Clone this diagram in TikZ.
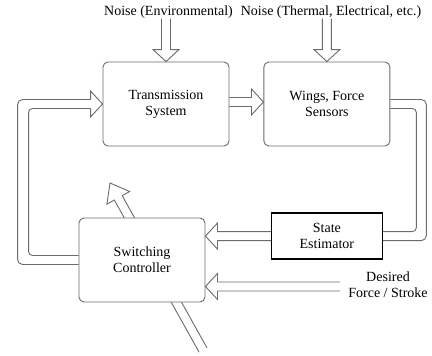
\documentclass[tikz,border=0pt]{standalone}
\usepackage{fontspec}
\setmainfont{Liberation Serif}
\usepackage{tikz}
\usetikzlibrary{positioning,calc}
\definecolor{linegray}{gray}{0.42}
\tikzset{every node/.style={font=\fontsize{14}{16}\selectfont}}

% hollow double-line arrow from #2 to #3, head length #1
\newcommand{\fatarrow}[3][12pt]{%
  \draw[flow] let \p1=($(#3)-(#2)$), \n1={atan2(\y1,\x1)} in
    ($(#2)+({\n1+90}:4.5pt)$)
    -- ($(#3)+({\n1+180}:#1)+({\n1+90}:4.5pt)$)
    -- ($(#3)+({\n1+180}:#1)+({\n1+90}:13pt)$)
    -- (#3)
    -- ($(#3)+({\n1+180}:#1)+({\n1-90}:13pt)$)
    -- ($(#3)+({\n1+180}:#1)+({\n1-90}:4.5pt)$)
    -- ($(#2)+({\n1-90}:4.5pt)$);}
% head only, for the loops
\newcommand{\fathead}[3][12pt]{%
  \draw[flow] let \p1=($(#3)-(#2)$), \n1={atan2(\y1,\x1)} in
    ($(#3)+({\n1+180}:#1)+({\n1+90}:4.5pt)$)
    -- ($(#3)+({\n1+180}:#1)+({\n1+90}:13pt)$)
    -- (#3)
    -- ($(#3)+({\n1+180}:#1)+({\n1-90}:13pt)$)
    -- ($(#3)+({\n1+180}:#1)+({\n1-90}:4.5pt)$);}

\begin{document}
\begin{tikzpicture}[
    x=1pt, y=-1pt,
    flow/.style={draw=linegray, line width=0.9pt},
    block/.style={rectangle, rounded corners=5pt, draw=linegray, line width=0.9pt,
      fill=white, minimum width=126pt, minimum height=84pt, align=center, inner sep=0pt},
    estbox/.style={rectangle, draw=black, line width=1.3pt, fill=white,
      minimum width=111pt, minimum height=46pt, align=center, inner sep=0pt}
]
\useasboundingbox (0,0) rectangle (432,356);

% switching arrow through the controller (drawn first, box covers it)
\coordinate (swlow) at (203,350);
\coordinate (swtip) at (110,183);
\fatarrow[17pt]{swlow}{swtip}

\node (trans) [block] at (166,104) {Transmission\\System};
\node (wings) [block, right=34pt of trans] {Wings, Force\\Sensors};
\node (est) [estbox, below=66pt of wings] {State\\Estimator};
\node (switch) [block] at (142,260) {Switching\\Controller};

\node (envnoise) at (168.5,12) {Noise (Environmental)};
\node (sensnoise) at (331,12) {Noise (Thermal, Electrical, etc.)};
\node (desired) [align=center] at (388,285) {Desired\\Force / Stroke};

\coordinate (envin) at ([yshift=43pt]trans.north);
\coordinate (sensin) at ([yshift=43pt]wings.north);
\coordinate (setpoint) at (340,286.5);

\fatarrow{envin}{trans.north}
\fatarrow{sensin}{wings.north}
\fatarrow{[yshift=2pt]trans.east}{[yshift=2pt]wings.west}
\fatarrow{est.west}{switch.east |- est.west}
\fatarrow{setpoint}{switch.east |- setpoint}

% feedback, sensors to estimator
\draw[flow, rounded corners=5pt] ([yshift=4.5pt]wings.east) -- ++(36pt,0) |- ([yshift=-4.5pt]est.east);
\draw[flow, rounded corners=4pt] ([yshift=-4.5pt]wings.east) -- ++(26pt,0) |- ([yshift=4.5pt]est.east);

% feedback, controller to transmission
\draw[flow, rounded corners=5pt] ([yshift=-4.5pt]switch.west) -- ++(-61pt,0) |- ([xshift=-12pt,yshift=4.5pt]trans.west);
\draw[flow, rounded corners=4pt] ([yshift=4.5pt]switch.west) -- ++(-50pt,0) |- ([xshift=-12pt,yshift=-4.5pt]trans.west);
\fathead{[xshift=-30pt]trans.west}{trans.west}

\end{tikzpicture}
\end{document}
